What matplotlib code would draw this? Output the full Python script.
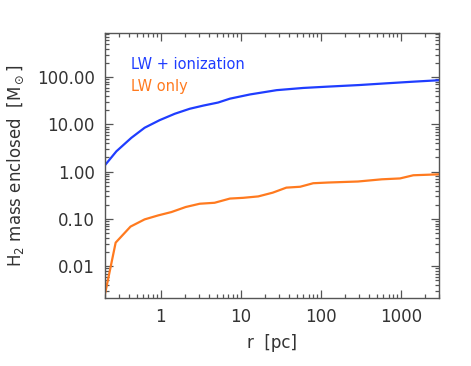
import numpy as np
import matplotlib
matplotlib.use('Agg')
import matplotlib.pyplot as plt
from matplotlib.ticker import LogLocator, FixedLocator, FormatStrFormatter, NullFormatter

# radius [pc] and enclosed H2 mass [Msun]
r_ion = [0.2, 0.28, 0.43, 0.63, 0.97, 1.5, 2.3, 3.4, 5.2, 7.3, 13, 28, 60,
         123, 300, 660, 1400, 3000]
m_ion = [1.35, 2.7, 5.2, 8.5, 12.3, 16.8, 21.4, 25, 29, 35, 43, 53, 59,
         63, 68, 74, 80, 86]

r_lw = [0.2, 0.274, 0.42, 0.63, 0.93, 1.36, 2.05, 3.07, 4.7, 7.3, 10.7, 16.5,
        25, 37, 55, 80, 123, 290, 575, 970, 1420, 3000]
m_lw = [0.0024, 0.0316, 0.069, 0.098, 0.119, 0.14, 0.179, 0.21, 0.22, 0.27,
        0.28, 0.30, 0.36, 0.46, 0.48, 0.57, 0.59, 0.62, 0.69, 0.72, 0.84, 0.88]

labels = ['LW + ionization', 'LW only']
colors = ['#1f3dff', '#ff7a1f']
ytick_vals = [0.01, 0.1, 1, 10, 100]
xtick_vals = [1, 10, 100, 1000]

txt = '#333333'
plt.rcParams['font.family'] = 'DejaVu Sans'
plt.rcParams['font.size'] = 10.5

fig = plt.figure(figsize=(4.71, 3.66), dpi=100)
ax = fig.add_axes([104.7 / 471, 1 - 298.3 / 366, 334.6 / 471, 265.6 / 366])

ax.plot(r_ion, m_ion, color=colors[0], lw=1.6)
ax.plot(r_lw, m_lw, color=colors[1], lw=1.6)

ax.set_xscale('log')
ax.set_yscale('log')
ax.set_xlim(0.2, 3000)
ax.set_ylim(2.1e-3, 870)

ax.xaxis.set_major_locator(FixedLocator(xtick_vals))
ax.xaxis.set_major_formatter(FormatStrFormatter('%d'))
ax.yaxis.set_major_locator(FixedLocator(ytick_vals))
ax.yaxis.set_major_formatter(FormatStrFormatter('%.2f'))
for a in (ax.xaxis, ax.yaxis):
    a.set_minor_locator(LogLocator(base=10, subs=np.arange(2, 10)))
    a.set_minor_formatter(NullFormatter())

ax.tick_params(which='both', direction='in', top=True, right=True,
               color='#555555', labelcolor=txt, width=0.9)
ax.tick_params(which='major', length=6, pad=7, labelsize=12)
ax.tick_params(which='minor', length=3)
for s in ax.spines.values():
    s.set_color('#555555')
    s.set_linewidth(1.0)

ax.set_xlabel('r  [pc]', color=txt, fontsize=12, labelpad=6)
ax.set_ylabel(r'H$_2$ mass enclosed  [M$_\odot$]', color=txt, fontsize=12,
              labelpad=8)

ax.text(0.079, 0.882, labels[0], color=colors[0], fontsize=10.5,
        transform=ax.transAxes, va='center')
ax.text(0.079, 0.797, labels[1], color=colors[1], fontsize=10.5,
        transform=ax.transAxes, va='center')

fig.savefig('out.png', dpi=100)
